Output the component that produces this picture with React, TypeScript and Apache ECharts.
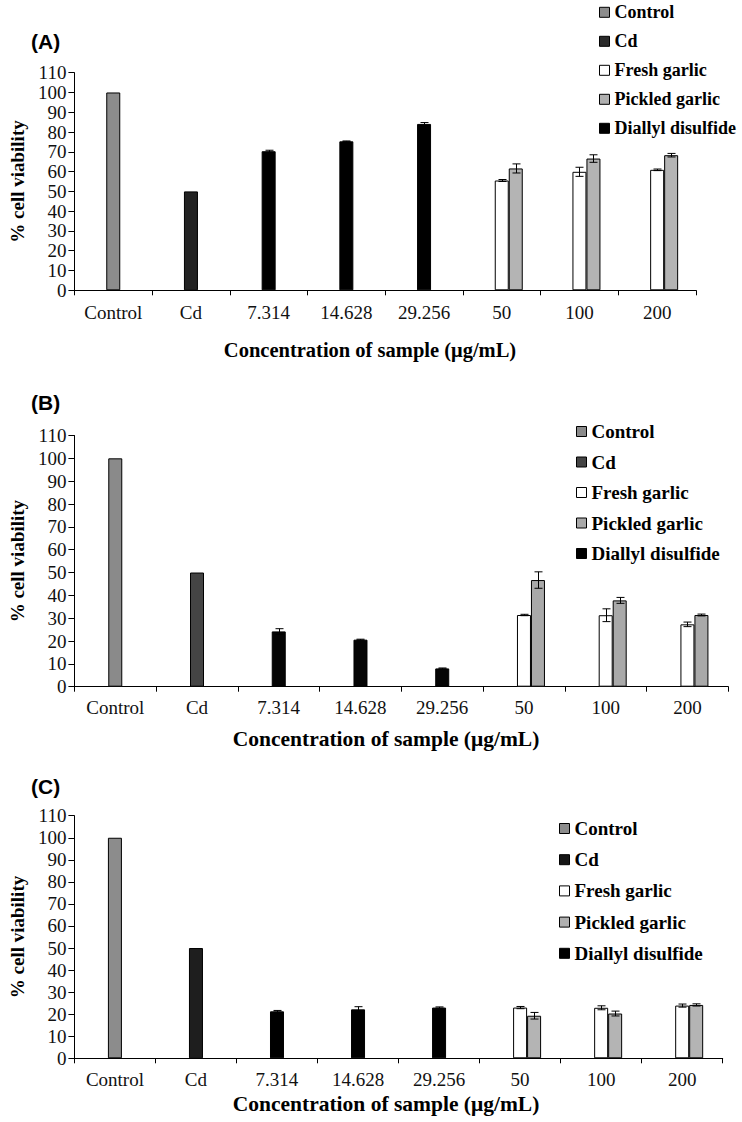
import React, { useEffect, useRef } from "react";
import * as echarts from "echarts";

// ---------- data ----------
const categories = ["Control", "Cd", "7.314", "14.628", "29.256", "50", "100", "200"];
const legendNames = ["Control", "Cd", "Fresh garlic", "Pickled garlic", "Diallyl disulfide"];
const panelLabels = ["(A)", "(B)", "(C)"];
const yTitle = "% cell viability";
const xTitle = "Concentration of sample (μg/mL)";

// Panel A
const aControl = [100];
const aCd = [50];
const aDads = [70.3, 75.3, 84.1];
const aDadsErr = [0.5, 0.2, 0.7];
const aFresh = [55.5, 59.9, 60.9];
const aFreshErr = [0.5, 2.3, 0.4];
const aPickled = [61.6, 66.6, 68.3];
const aPickledErr = [2.3, 1.9, 0.9];

// Panel B
const bControl = [100];
const bCd = [50];
const bDads = [24.2, 20.6, 8.0];
const bDadsErr = [1.2, 0.2, 0.2];
const bFresh = [31.4, 31.3, 27.3];
const bFreshErr = [0.3, 2.8, 1.0];
const bPickled = [46.7, 37.8, 31.4];
const bPickledErr = [3.6, 1.3, 0.4];

// Panel C
const cControl = [100];
const cCd = [50];
const cDads = [21.3, 22.2, 23.0];
const cDadsErr = [0.4, 1.2, 0.3];
const cFresh = [23.0, 22.9, 23.9];
const cFreshErr = [0.5, 0.9, 0.7];
const cPickled = [19.3, 20.3, 24.2];
const cPickledErr = [1.5, 1.1, 0.5];

// ---------- styles / layout ----------
const SERIF = "Liberation Serif, serif";
const SANS = "Liberation Sans, sans-serif";
const BAR_W = 14;

const panels = [
  {
    data: { control: aControl, cd: aCd, dads: aDads, dadsErr: aDadsErr, fresh: aFresh, freshErr: aFreshErr, pickled: aPickled, pickledErr: aPickledErr },
    grid: { left: 70, top: 72.7, width: 626, height: 217.6 },
    colors: { control: "#8c8c8c", cd: "#232323", dads: "#000000", fresh: "#ffffff", pickled: "#b4b4b4" },
    legendColors: ["#8c8c8c", "#2a2a2a", "#ffffff", "#b0b0b0", "#000000"],
    legend: { left: 599, top: 3.3, gap: 11, font: 18 },
    label: { x: 31, y: 41.5 },
    xt: { x: 370, y: 350, font: 20.5 },
    yNameGap: 41,
    xLabelMargin: 13,
  },
  {
    data: { control: bControl, cd: bCd, dads: bDads, dadsErr: bDadsErr, fresh: bFresh, freshErr: bFreshErr, pickled: bPickled, pickledErr: bPickledErr },
    grid: { left: 69, top: 435.5, width: 659.3, height: 251.2 },
    colors: { control: "#8a8a8a", cd: "#444444", dads: "#050505", fresh: "#ffffff", pickled: "#a9a9a9" },
    legendColors: ["#8a8a8a", "#444444", "#ffffff", "#a9a9a9", "#000000"],
    legend: { left: 576, top: 422, gap: 11.5, font: 19 },
    label: { x: 31, y: 402 },
    xt: { x: 386, y: 738.5, font: 21.5 },
    yNameGap: 47,
    xLabelMargin: 11,
  },
  {
    data: { control: cControl, cd: cCd, dads: cDads, dadsErr: cDadsErr, fresh: cFresh, freshErr: cFreshErr, pickled: cPickled, pickledErr: cPickledErr },
    grid: { left: 70, top: 815.7, width: 652.7, height: 242.6 },
    colors: { control: "#8c8c8c", cd: "#1e1e1e", dads: "#000000", fresh: "#ffffff", pickled: "#b4b4b4" },
    legendColors: ["#8c8c8c", "#151515", "#ffffff", "#b0b0b0", "#000000"],
    legend: { left: 559, top: 819, gap: 12.2, font: 19 },
    label: { x: 31, y: 786.5 },
    xt: { x: 386, y: 1103.5, font: 21.5 },
    yNameGap: 44,
    xLabelMargin: 12,
  },
];

function place(values: number[], start: number): (number | string)[] {
  const arr: (number | string)[] = categories.map(() => "-");
  values.forEach((v, k) => {
    arr[start + k] = v;
  });
  return arr;
}

function errorSeries(i: number, values: number[], errs: number[], start: number, offset: number) {
  return {
    type: "custom",
    xAxisIndex: i,
    yAxisIndex: i,
    z: 10,
    silent: true,
    data: values.map((v, k) => [start + k, v, errs[k]]),
    renderItem: (_params: any, api: any) => {
      const idx = api.value(0);
      const v = api.value(1);
      const e = api.value(2);
      if (!e) return { type: "group", children: [] };
      const top = api.coord([idx, v + e]);
      const bot = api.coord([idx, v - e]);
      const x = Math.round(top[0] + offset) + 0.5;
      const cap = 4;
      const st = { stroke: "#000", lineWidth: 1 };
      return {
        type: "group",
        children: [
          { type: "line", shape: { x1: x, y1: top[1], x2: x, y2: bot[1] }, style: st },
          { type: "line", shape: { x1: x - cap, y1: top[1], x2: x + cap, y2: top[1] }, style: st },
          { type: "line", shape: { x1: x - cap, y1: bot[1], x2: x + cap, y2: bot[1] }, style: st },
        ],
      };
    },
  };
}

function buildOption() {
  const grid: any[] = [];
  const xAxis: any[] = [];
  const yAxis: any[] = [];
  const series: any[] = [];
  const legend: any[] = [];
  const graphic: any[] = [];

  panels.forEach((p, i) => {
    grid.push({ ...p.grid, containLabel: false });
    xAxis.push({
      type: "category",
      gridIndex: i,
      data: categories,
      boundaryGap: true,
      axisLine: { lineStyle: { color: "#000", width: 1 } },
      axisTick: { show: true, inside: false, length: 5, interval: 0, alignWithLabel: false, lineStyle: { color: "#000" } },
      axisLabel: { interval: 0, margin: p.xLabelMargin, fontFamily: SERIF, fontSize: 19, color: "#111" },
      splitLine: { show: false },
    });
    yAxis.push({
      type: "value",
      gridIndex: i,
      min: 0,
      max: 110,
      interval: 10,
      name: yTitle,
      nameLocation: "middle",
      nameGap: p.yNameGap,
      nameTextStyle: { fontFamily: SERIF, fontWeight: "bold", fontSize: 19, color: "#000" },
      axisLine: { show: true, lineStyle: { color: "#000", width: 1 } },
      axisTick: { show: true, inside: false, length: 6, lineStyle: { color: "#000" } },
      axisLabel: { margin: 8, fontFamily: SERIF, fontSize: 19, color: "#111" },
      splitLine: { show: false },
    });

    const barBase = (name: string, color: string, stack: string, data: any[]) => ({
      type: "bar",
      name,
      xAxisIndex: i,
      yAxisIndex: i,
      stack,
      barWidth: BAR_W,
      barGap: 0,
      data,
      itemStyle: { color, borderColor: "#000", borderWidth: 1 },
      silent: true,
    });
    const d = p.data;
    // empty left slot so that the main bars sit centred and pickled bars sit one bar-width right
    series.push(barBase("__slot" + i, "transparent", "slotL" + i, categories.map(() => "-")));
    series.push(barBase("Control", p.colors.control, "main" + i, place(d.control, 0)));
    series.push(barBase("Cd", p.colors.cd, "main" + i, place(d.cd, 1)));
    series.push(barBase("Diallyl disulfide", p.colors.dads, "main" + i, place(d.dads, 2)));
    series.push(barBase("Fresh garlic", p.colors.fresh, "main" + i, place(d.fresh, 5)));
    series.push(barBase("Pickled garlic", p.colors.pickled, "right" + i, place(d.pickled, 5)));

    series.push(errorSeries(i, d.dads, d.dadsErr, 2, 0));
    series.push(errorSeries(i, d.fresh, d.freshErr, 5, 0));
    series.push(errorSeries(i, d.pickled, d.pickledErr, 5, BAR_W));

    legend.push({
      orient: "vertical",
      left: p.legend.left,
      top: p.legend.top,
      itemWidth: 10,
      itemHeight: 10,
      itemGap: p.legend.gap,
      icon: "rect",
      selectedMode: false,
      padding: 0,
      textStyle: { fontFamily: SERIF, fontWeight: "bold", fontSize: p.legend.font, color: "#000", lineHeight: 18 },
      data: legendNames.map((n, k) => ({
        name: n,
        itemStyle: { color: p.legendColors[k], borderColor: "#000", borderWidth: 1 },
      })),
    });

    graphic.push({
      type: "text",
      x: p.label.x,
      y: p.label.y,
      style: { text: panelLabels[i], fontFamily: SANS, fontWeight: "bold", fontSize: 21, fill: "#000", verticalAlign: "middle", align: "left" },
    });
    graphic.push({
      type: "text",
      x: p.xt.x,
      y: p.xt.y,
      style: { text: xTitle, fontFamily: SERIF, fontWeight: "bold", fontSize: p.xt.font, fill: "#000", verticalAlign: "middle", align: "center" },
    });
  });

  return {
    animation: false,
    backgroundColor: "#ffffff",
    grid,
    xAxis,
    yAxis,
    series,
    legend,
    graphic,
  };
}

export default function App() {
  const ref = useRef<HTMLDivElement>(null);
  useEffect(() => {
    if (!ref.current) return;
    const chart = echarts.init(ref.current, null, { renderer: "svg" });
    chart.setOption(buildOption() as any);
    return () => chart.dispose();
  }, []);
  return (
    <div
      ref={ref}
      style={{ position: "absolute", left: 0, top: 0, width: 742, height: 1122, background: "#fff" }}
    />
  );
}
